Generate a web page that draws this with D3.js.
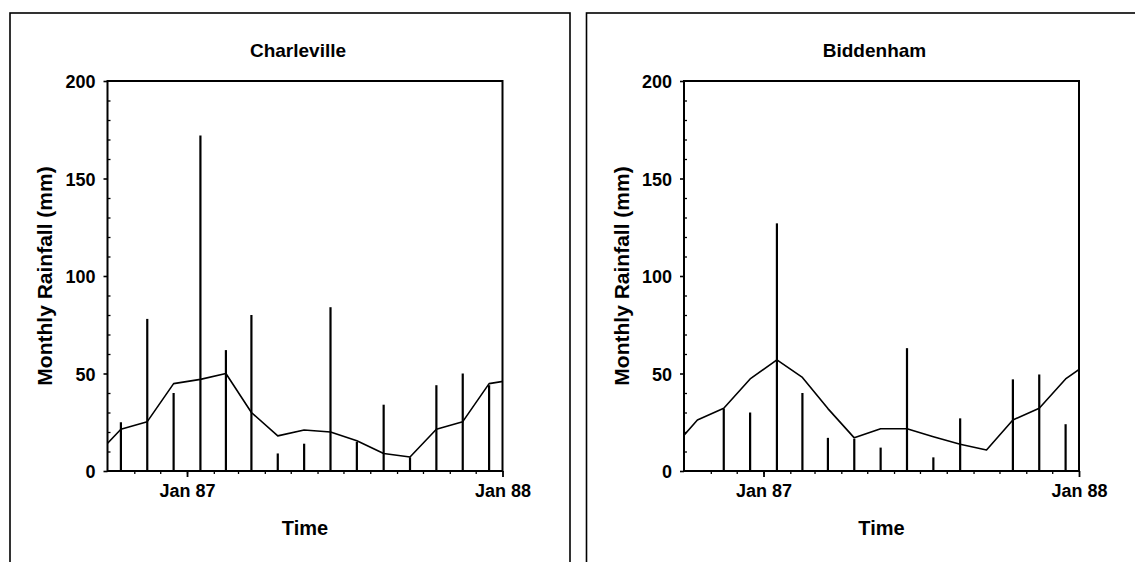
<!DOCTYPE html>
<html>
<head>
<meta charset="utf-8">
<script src="https://cdn.jsdelivr.net/npm/d3@7"></script>
<style>
  html, body { margin: 0; padding: 0; background: #fff; }
  svg text { font-family: "Liberation Sans", Arial, Helvetica, sans-serif; font-weight: bold; fill: #000; }
</style>
</head>
<body>
<svg id="chart" width="1135" height="562"></svg>
<script>
// Months shown on the time axis (Oct 1986 – Dec 1987)
const months = ["1986-10", "1986-11", "1986-12", "1987-01", "1987-02", "1987-03",
                "1987-04", "1987-05", "1987-06", "1987-07", "1987-08", "1987-09",
                "1987-10", "1987-11", "1987-12"];

// Monthly rainfall totals (mm)
const charlevilleRain = [25, 78, 40, 172, 62, 80, 9, 14, 84, 15, 34, 7, 44, 50, 44];
const biddenhamRain   = [0, 32, 30, 127, 40, 17, 16.5, 12, 63, 7, 27, 0, 47, 49.5, 24];

// Long-term mean rainfall by calendar month, Jan..Dec (mm)
const charlevilleMean = [47, 50, 30, 18, 21, 20, 15.5, 9, 7.2, 21.4, 25.3, 44.8];
const biddenhamMean   = [57, 48, 32, 17, 21.7, 21.7, 17.6, 13.7, 10.8, 26.2, 32.2, 47.2];

// Axis ticks
const yMajorTicks = [0, 50, 100, 150, 200];
const xMajorTicks = ["1987-01", "1988-01"];
const xMajorLabels = ["Jan 87", "Jan 88"];

const stations = [
  { name: "Charleville", rain: charlevilleRain, mean: charlevilleMean },
  { name: "Biddenham",   rain: biddenhamRain,   mean: biddenhamMean }
];

const parseMonth = d3.timeParse("%Y-%m");
const monthDates = months.map(parseMonth);
const start = monthDates[0];
const end = d3.timeMonth.offset(monthDates[monthDates.length - 1], 1);
const midMonth = d => new Date((d.getTime() + d3.timeMonth.offset(d, 1).getTime()) / 2);

const svg = d3.select("#chart");

const panelOffset = 576.5;
const plot = { left: 107.5, top: 81, width: 395, height: 390 };

stations.forEach((st, i) => {
  const g = svg.append("g").attr("transform", `translate(${i * panelOffset},0)`);

  // outer frame of the panel
  g.append("rect")
    .attr("x", 10).attr("y", 13)
    .attr("width", i === 0 ? 560 : 600).attr("height", 600)
    .attr("fill", "none").attr("stroke", "#000").attr("stroke-width", 1.6);

  const p = g.append("g").attr("transform", `translate(${plot.left},${plot.top})`);

  const x = d3.scaleTime().domain([start, end]).range([0, plot.width]);
  const y = d3.scaleLinear().domain([0, 200]).range([plot.height, 0]);

  const clipId = "clip" + i;
  p.append("clipPath").attr("id", clipId)
    .append("rect").attr("width", plot.width).attr("height", plot.height);

  // monthly totals as vertical bars
  p.append("g").selectAll("line")
    .data(st.rain.map((v, k) => ({ date: midMonth(monthDates[k]), value: v })).filter(d => d.value > 0))
    .join("line")
    .attr("x1", d => x(d.date)).attr("x2", d => x(d.date))
    .attr("y1", y(0)).attr("y2", d => y(d.value))
    .attr("stroke", "#000").attr("stroke-width", 2.2);

  // long-term monthly mean, repeated over the period and clipped to the plot
  const meanMonths = d3.timeMonth.range(d3.timeMonth.offset(start, -1), d3.timeMonth.offset(end, 1));
  const meanPts = meanMonths.map(m => ({ date: midMonth(m), value: st.mean[m.getMonth()] }));
  p.append("path")
    .datum(meanPts)
    .attr("clip-path", `url(#${clipId})`)
    .attr("fill", "none").attr("stroke", "#000").attr("stroke-width", 1.6)
    .attr("stroke-linejoin", "round")
    .attr("d", d3.line().x(d => x(d.date)).y(d => y(d.value)));

  // y axis: labelled outward major ticks, inward minor ticks every 10 mm
  const yMajor = d3.axisLeft(y).tickValues(yMajorTicks).tickSize(4).tickPadding(8).tickFormat(d3.format("d"));
  const yAx = p.append("g").call(yMajor);
  yAx.select(".domain").remove();
  yAx.selectAll("line").attr("stroke", "#000").attr("stroke-width", 1.6);
  yAx.selectAll("text").attr("font-size", 18).attr("dy", "0.38em")
    .attr("font-family", "Liberation Sans, Arial, sans-serif").attr("font-weight", "bold");

  const yMinor = d3.axisRight(y).tickValues(d3.range(10, 200, 10).filter(v => v % 50 !== 0)).tickSize(3).tickFormat("");
  const yMin = p.append("g").call(yMinor);
  yMin.select(".domain").remove();
  yMin.selectAll("line").attr("stroke", "#000").attr("stroke-width", 1.3);

  // x axis: monthly minor ticks, longer ticks at each January
  const xMinor = d3.axisBottom(x).tickValues(monthDates.slice(1)).tickSize(3).tickFormat("");
  const xMin = p.append("g").attr("transform", `translate(0,${plot.height})`).call(xMinor);
  xMin.select(".domain").remove();
  xMin.selectAll("line").attr("stroke", "#000").attr("stroke-width", 1.3);

  const xMajor = d3.axisBottom(x).tickValues(xMajorTicks.map(parseMonth)).tickSize(6).tickPadding(7)
    .tickFormat((d, k) => xMajorLabels[k]);
  const xAx = p.append("g").attr("transform", `translate(0,${plot.height})`).call(xMajor);
  xAx.select(".domain").remove();
  xAx.selectAll("line").attr("stroke", "#000").attr("stroke-width", 1.8);
  xAx.selectAll("text").attr("font-size", 18)
    .attr("font-family", "Liberation Sans, Arial, sans-serif").attr("font-weight", "bold");

  // plot frame
  p.append("rect")
    .attr("width", plot.width).attr("height", plot.height)
    .attr("fill", "none").attr("stroke", "#000").attr("stroke-width", 2);

  // titles and axis labels
  g.append("text")
    .attr("x", plot.left + plot.width / 2 - 7).attr("y", 57)
    .attr("text-anchor", "middle").attr("font-size", 19)
    .text(st.name);

  g.append("text")
    .attr("x", plot.left + plot.width / 2).attr("y", 535)
    .attr("text-anchor", "middle").attr("font-size", 20)
    .text("Time");

  g.append("text")
    .attr("transform", `translate(52,276) rotate(-90)`)
    .attr("text-anchor", "middle").attr("font-size", 21)
    .text("Monthly Rainfall (mm)");
});
</script>
</body>
</html>
